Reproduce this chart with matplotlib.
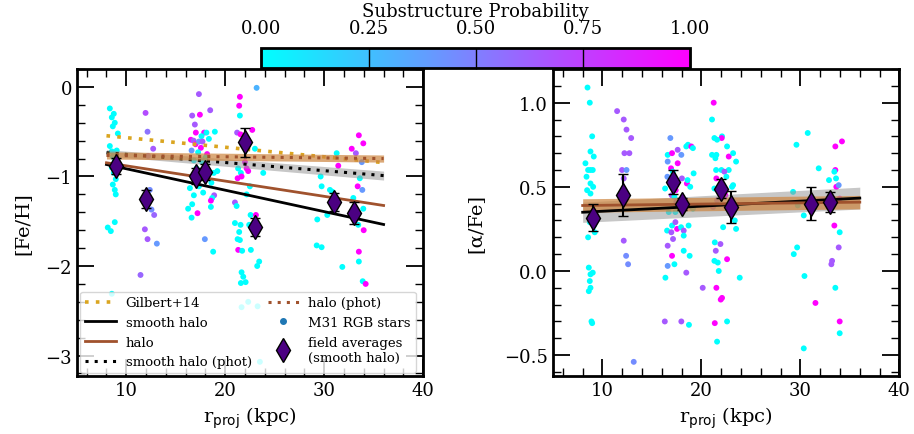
import numpy as np
import matplotlib
matplotlib.use("Agg")
import matplotlib.pyplot as plt
from matplotlib.ticker import MultipleLocator
from matplotlib.lines import Line2D

plt.rcParams['font.family'] = 'DejaVu Serif'
plt.rcParams['mathtext.fontset'] = 'dejavusans'

# stars, left panel: rproj, [Fe/H], substructure probability
feh_r = [8.34, 8.74, 8.54, 8.84, 8.64, 9.15, 8.34, 8.54, 8.84, 9.04, 8.64, 8.84, 8.54, 8.74,
         8.94, 8.64, 8.84, 8.94, 8.84, 8.13, 8.44, 8.54,
         11.95, 12.15, 12.72, 12.2, 12.38, 12.55, 12.82, 11.88, 12.15, 13.09, 11.44,
         17.34, 16.66, 17.44, 18.48, 16.93, 17.03, 17.87, 17.6, 18.1, 18.95, 16.53, 16.8,
         17.0, 17.34, 17.7, 18.35, 16.6, 17.54, 17.26, 18.17, 18.0, 16.83, 17.6, 17.1,
         18.85, 19.2, 18.6, 16.43, 17.34, 16.83, 17.77, 18.88, 18.68, 18.55, 16.66, 18.55,
         16.25, 17.2, 16.6, 17.94, 18.78,
         23.17, 21.48, 21.41, 21.48, 22.73, 21.2, 21.55, 23.0, 23.84, 21.99, 21.3, 22.16,
         22.32, 21.58, 21.25, 21.65, 22.49, 22.16, 20.98, 21.15, 22.56, 23.1, 20.98, 21.55,
         22.42, 21.41, 21.25, 21.48, 21.31, 21.71, 22.59, 23.43, 23.23, 21.65, 21.82, 22.06,
         21.58, 22.32, 21.65, 23.27, 23.5,
         31.26, 32.78, 33.2, 33.5, 33.95, 33.8, 31.42, 29.64, 33.6, 29.74, 30.58, 30.82,
         33.38, 33.85, 32.94, 33.95, 30.31, 29.3, 33.44, 33.99, 33.5, 33.5, 29.24, 29.74,
         31.83, 33.89, 34.19]
feh = [-0.24, -0.30, -0.34, -0.40, -0.44, -0.52, -0.66, -0.72, -0.73, -0.71, -0.78, -0.83,
       -0.90, -0.96, -1.03, -1.09, -1.15, -1.20, -1.51, -1.57, -1.61, -2.31,
       -0.29, -0.50, -0.69, -0.77, -1.15, -1.37, -1.43, -1.59, -1.70, -1.75, -2.10,
       -0.08, -0.32, -0.31, -0.26, -0.42, -0.51, -0.51, -0.55, -0.51, -0.50, -0.59, -0.60,
       -0.64, -0.61, -0.61, -0.58, -0.71, -0.68, -0.73, -0.75, -0.79, -0.82, -0.83, -0.91,
       -0.96, -0.94, -1.07, -1.13, -1.11, -1.21, -1.18, -1.21, -1.24, -1.27, -1.31, -1.34,
       -1.36, -1.41, -1.46, -1.70, -1.84,
       -0.01, -0.11, -0.21, -0.32, -0.48, -0.51, -0.53, -0.69, -0.96, -0.84, -0.91, -0.91,
       -0.94, -0.96, -1.02, -1.00, -1.11, -1.20, -1.29, -1.33, -1.43, -1.43, -1.52, -1.54,
       -1.54, -1.62, -1.70, -1.71, -1.82, -1.83, -1.82, -1.95, -2.00, -2.07, -2.12, -2.18,
       -2.19, -2.40, -2.46, -2.45, -3.07,
       -0.74, -0.69, -0.74, -0.54, -0.63, -0.84, -0.88, -1.00, -1.02, -1.11, -1.15, -1.17,
       -1.11, -1.15, -1.24, -1.36, -1.43, -1.48, -1.54, -1.60, -1.84, -1.95, -1.77, -1.79,
       -2.01, -2.17, -2.20]
feh_p = [0.0] * 22 + \
        [0.7, 0.55, 0.65, 0.65, 0.45, 0.45, 0.6, 0.65, 0.65, 0.4, 0.6] + \
        [0.65, 0.65, 1.0, 0.65, 0.65, 1.0, 1.0, 0.0, 0.0, 0.0, 1.0, 0.65,
         1.0, 0.4, 0.65, 0.0, 0.4, 1.0, 0.0, 1.0, 0.0, 0.0, 0.0, 0.0,
         0.0, 0.0, 0.0, 0.0, 0.0, 0.0, 0.0, 0.65, 0.0, 1.0, 0.0, 0.0,
         0.0, 1.0, 0.0, 0.4, 0.0] + \
        [0.3, 1.0, 1.0, 0.0, 1.0, 0.65, 1.0, 0.0, 0.0, 1.0, 0.0, 1.0,
         1.0, 0.0, 1.0, 1.0, 0.0, 0.0, 0.65, 0.0, 0.0, 1.0, 0.0, 0.0,
         0.0, 0.0, 0.0, 0.0, 1.0, 0.0, 0.0, 0.0, 0.0, 0.0, 0.0, 0.0,
         0.0, 0.0, 0.0, 0.0, 0.0] + \
        [0.0, 1.0, 0.65, 1.0, 1.0, 0.4, 1.0, 0.0, 0.0, 0.0, 0.0, 0.0,
         1.0, 0.4, 0.0, 0.0, 0.0, 0.0, 0.0, 1.0, 1.0, 0.0, 0.0, 0.0,
         0.0, 0.0, 1.0]

# stars, right panel: rproj, [alpha/Fe], substructure probability
afe_r = [8.49, 8.72, 8.96, 8.79, 9.12, 8.28, 8.55, 8.79, 9.02, 8.39, 8.79, 9.06, 8.45, 8.79,
         8.72, 9.12, 9.22, 8.55, 8.62, 8.79, 9.02, 8.72, 8.79, 8.62, 8.89, 8.96,
         11.48, 12.15, 12.43, 12.9, 12.22, 12.72, 11.98, 12.43, 12.15, 12.15, 12.39, 12.59, 13.16,
         16.86, 16.59, 16.59, 17.03, 17.6, 17.97, 18.47, 18.64, 18.98, 19.14, 17.6, 16.93,
         17.1, 16.56, 18.03, 18.53, 18.87, 18.6, 19.21, 16.33, 17.4, 17.0, 17.27, 17.47,
         16.7, 17.37, 17.6, 19.14, 17.03, 17.37, 16.53, 16.96, 17.54, 17.94, 18.21, 18.7,
         18.21, 17.13, 16.59, 18.21, 18.81, 17.03, 17.27, 16.59, 18.47, 16.36, 16.3, 17.97, 18.74,
         21.24, 21.07, 21.31, 22.08, 22.05, 21.58, 22.59, 21.07, 21.51, 22.76, 23.2, 23.5,
         21.41, 21.48, 22.02, 22.76, 22.32, 21.51, 22.52, 23.09, 23.2, 21.31, 22.42, 21.17,
         21.58, 23.37, 22.19, 23.5, 21.92, 21.35, 21.45, 21.31, 21.65, 22.59, 21.75, 23.87,
         20.13, 21.51, 22.08, 21.95, 21.35, 22.59, 21.58,
         30.74, 29.6, 29.26, 29.73, 30.34, 31.85, 32.89, 33.53, 34.2, 33.53, 33.43, 33.6,
         33.63, 33.87, 33.97, 33.43, 33.97, 33.87, 33.2, 33.13, 29.67, 29.33, 30.41, 31.52,
         33.53, 33.97, 33.97, 30.34]
afe = [1.09, 1.00, 0.80, 0.71, 0.68, 0.64, 0.60, 0.60, 0.60, 0.56, 0.52, 0.50, 0.48, 0.46,
       0.29, 0.27, 0.23, 0.20, 0.02, -0.02, -0.01, -0.06, -0.10, -0.12, -0.30, -0.31,
       0.95, 0.90, 0.84, 0.79, 0.70, 0.70, 0.60, 0.60, 0.55, 0.18, 0.09, 0.04, -0.54,
       0.79, 0.69, 0.65, 0.70, 0.72, 0.69, 0.74, 0.75, 0.74, 0.73, 0.64, 0.61,
       0.59, 0.56, 0.55, 0.52, 0.50, 0.54, 0.58, 0.49, 0.48, 0.45, 0.44, 0.41,
       0.35, 0.35, 0.38, 0.37, 0.27, 0.29, 0.24, 0.23, 0.25, 0.26, 0.24, 0.27,
       0.21, 0.19, 0.15, 0.12, 0.09, 0.09, 0.04, 0.03, -0.01, -0.04, -0.30, -0.30, -0.32,
       1.00, 0.90, 0.79, 0.80, 0.79, 0.78, 0.74, 0.69, 0.69, 0.68, 0.70, 0.65,
       0.67, 0.60, 0.60, 0.60, 0.59, 0.55, 0.56, 0.50, 0.51, 0.49, 0.45, 0.38,
       0.42, 0.30, 0.26, 0.25, 0.16, 0.17, 0.12, 0.06, 0.05, 0.07, 0.00, -0.04,
       -0.10, -0.10, -0.16, -0.17, -0.31, -0.30, -0.42,
       0.82, 0.75, 0.47, 0.39, 0.33, 0.61, 0.54, 0.74, 0.77, 0.60, 0.59, 0.55,
       0.50, 0.51, 0.43, 0.27, 0.23, 0.14, 0.06, 0.04, 0.14, 0.10, -0.03, -0.19,
       -0.10, -0.30, -0.37, -0.46]
afe_p = [0.0] * 26 + \
        [0.65, 0.65, 0.65, 0.65, 0.65, 0.65, 0.65, 0.4, 0.65, 0.65, 0.45, 0.45, 0.45] + \
        [0.4, 0.0, 0.4, 1.0, 0.65, 0.4, 0.0, 0.0, 1.0, 0.0, 1.0, 1.0,
         0.0, 0.4, 0.65, 1.0, 0.0, 0.0, 0.0, 0.0, 1.0, 0.65, 0.0, 0.65,
         0.0, 0.0, 0.0, 0.0, 0.0, 0.65, 0.0, 0.65, 1.0, 0.0, 0.65, 0.0,
         0.0, 0.65, 0.65, 0.0, 0.0, 1.0, 0.0, 0.4, 0.65, 0.0, 0.65, 0.65, 0.0] + \
        [1.0, 0.0, 0.0, 0.0, 1.0, 0.0, 0.0, 0.0, 0.0, 1.0, 0.0, 0.0,
         0.0, 0.0, 0.0, 0.0, 0.65, 1.0, 0.0, 0.0, 0.0, 0.0, 1.0, 0.65,
         0.65, 0.0, 0.0, 0.0, 0.65, 0.0, 0.65, 0.0, 0.0, 1.0, 0.0, 0.0,
         0.65, 1.0, 1.0, 1.0, 1.0, 0.0, 0.0] + \
        [0.0, 0.0, 0.0, 0.0, 0.0, 0.0, 0.0, 1.0, 1.0, 1.0, 0.0, 0.0,
         1.0, 0.4, 1.0, 1.0, 0.0, 0.65, 0.65, 0.65, 0.0, 0.0, 0.0, 1.0,
         0.0, 1.0, 0.0, 0.0]

# field averages (smooth halo)
field_r = [9.0, 12.0, 17.0, 18.0, 22.0, 23.0, 31.0, 33.0]
field_feh = [-0.88, -1.25, -0.99, -0.95, -0.62, -1.56, -1.29, -1.41]
field_feh_err = [0.09, 0.10, 0.09, 0.09, 0.16, 0.10, 0.10, 0.12]
field_afe_r = [9.0, 12.05, 17.1, 18.05, 22.0, 23.0, 31.1, 33.0]
field_afe = [0.315, 0.45, 0.53, 0.40, 0.49, 0.38, 0.40, 0.41]
field_afe_err = [0.08, 0.125, 0.07, 0.035, 0.057, 0.094, 0.10, 0.06]

# gradient fits: [value at 8 kpc, value at 36 kpc]
fit_r = [8.0, 36.0]
gilbert14 = [-0.545, -0.845]
feh_smooth = [-0.866, -1.536]
feh_halo = [-0.847, -1.324]
feh_smooth_phot = [-0.735, -0.99]
feh_smooth_phot_err = [0.035, 0.05]
feh_halo_phot = [-0.765, -0.80]
feh_halo_phot_err = [0.04, 0.04]
afe_smooth = [0.349, 0.433]
afe_smooth_err = [0.06, 0.065]
afe_halo = [0.389, 0.409]
afe_halo_err = [0.04, 0.04]

tan = '#cd853f'
brown = 'sienna'
gold = 'goldenrod'
dots = (1, 2)

fig = plt.figure(figsize=(9.14, 4.35), dpi=100)
ax1 = fig.add_axes([0.084, 0.133, 0.379, 0.706])
ax2 = fig.add_axes([0.605, 0.133, 0.379, 0.706])
cax = fig.add_axes([0.286, 0.842, 0.469, 0.046])

cmap = plt.get_cmap('cool')
ax1.scatter(feh_r, feh, c=feh_p, cmap=cmap, vmin=0, vmax=1, s=18, lw=0, zorder=2)
ax2.scatter(afe_r, afe, c=afe_p, cmap=cmap, vmin=0, vmax=1, s=18, lw=0, zorder=2)

# left panel fits
ax1.plot(fit_r, gilbert14, color=gold, ls=(0, dots), lw=2.6, zorder=3)
ax1.plot(fit_r, feh_smooth, color='k', lw=2, zorder=3)
ax1.plot(fit_r, feh_halo, color=brown, lw=2, zorder=3)
lo = np.array(feh_smooth_phot) - feh_smooth_phot_err
hi = np.array(feh_smooth_phot) + feh_smooth_phot_err
ax1.fill_between(fit_r, lo, hi, color='#999999', alpha=0.55, lw=0, zorder=3)
ax1.plot(fit_r, feh_smooth_phot, color='k', ls=(0, dots), lw=2.2, zorder=3)
lo = np.array(feh_halo_phot) - feh_halo_phot_err
hi = np.array(feh_halo_phot) + feh_halo_phot_err
ax1.fill_between(fit_r, lo, hi, color=tan, alpha=0.7, lw=0, zorder=3)
ax1.plot(fit_r, feh_halo_phot, color=brown, ls=(0, dots), lw=2.2, zorder=3)

ax1.errorbar(field_r, field_feh, yerr=field_feh_err, fmt='d', ms=12, mfc='#4b0082', mec='k',
             mew=1, ecolor='k', elinewidth=1.5, capsize=3.5, capthick=1.5, zorder=5)

# right panel fits
lo = np.array(afe_smooth) - afe_smooth_err
hi = np.array(afe_smooth) + afe_smooth_err
ax2.fill_between(fit_r, lo, hi, color='#999999', alpha=0.55, lw=0, zorder=3)
lo = np.array(afe_halo) - afe_halo_err
hi = np.array(afe_halo) + afe_halo_err
ax2.fill_between(fit_r, lo, hi, color=tan, alpha=0.7, lw=0, zorder=3)
ax2.plot(fit_r, afe_smooth, color='k', lw=2, zorder=4)
ax2.plot(fit_r, afe_halo, color=brown, lw=2, zorder=4)
ax2.errorbar(field_afe_r, field_afe, yerr=field_afe_err, fmt='d', ms=12, mfc='#4b0082', mec='k',
             mew=1, ecolor='k', elinewidth=1.5, capsize=3.5, capthick=1.5, zorder=5)

for ax in (ax1, ax2):
    ax.set_xlim(5, 40)
    ax.set_xticks([10, 20, 30, 40])
    ax.xaxis.set_minor_locator(MultipleLocator(2))
    ax.tick_params(which='both', direction='in', top=True, right=True, labelsize=13)
    ax.tick_params(which='major', length=12, width=1.3)
    ax.tick_params(which='minor', length=6, width=1)
    for sp in ax.spines.values():
        sp.set_linewidth(2)
    ax.set_xlabel(r'r$_{\rm proj}$ (kpc)', fontsize=14)

ax1.set_ylim(-3.23, 0.2)
ax1.set_yticks([-3, -2, -1, 0])
ax1.yaxis.set_minor_locator(MultipleLocator(0.2))
ax1.set_ylabel('[Fe/H]', fontsize=14, labelpad=10)

ax2.set_ylim(-0.625, 1.2)
ax2.set_yticks([-0.5, 0.0, 0.5, 1.0])
ax2.yaxis.set_minor_locator(MultipleLocator(0.1))
ax2.set_ylabel('[α/Fe]', fontsize=14, labelpad=14)

handles = [
    Line2D([], [], color=gold, ls=(0, dots), lw=2.6),
    Line2D([], [], color='k', lw=2),
    Line2D([], [], color=brown, lw=2),
    Line2D([], [], color='k', ls=(0, dots), lw=2.2),
    Line2D([], [], color=brown, ls=(0, dots), lw=2.2),
    Line2D([], [], color='C0', marker='o', ls='', ms=4),
]
labels = ['Gilbert+14', 'smooth halo', 'halo', 'smooth halo (phot)', 'halo (phot)', 'M31 RGB stars']
eb = ax1.errorbar([], [], yerr=[], fmt='d', ms=12, mfc='#4b0082', mec='k', ecolor='k',
                  elinewidth=1.5, capsize=3.5, capthick=1.5)
handles.append(eb)
labels.append('field averages\n(smooth halo)')
leg = ax1.legend(handles, labels, loc='lower left', ncol=2, fontsize=9.5, framealpha=0.8,
                 borderaxespad=0.25, handlelength=2.4, labelspacing=0.5, columnspacing=1.2,
                 borderpad=0.35, handletextpad=0.7)
leg.get_frame().set_edgecolor('#cccccc')
leg.set_zorder(6)

sm = matplotlib.cm.ScalarMappable(cmap=cmap, norm=matplotlib.colors.Normalize(0, 1))
cbar = fig.colorbar(sm, cax=cax, orientation='horizontal', ticks=[0, 0.25, 0.5, 0.75, 1.0])
cax.xaxis.set_ticks_position('top')
cax.xaxis.set_label_position('top')
cax.set_xticklabels(['0.00', '0.25', '0.50', '0.75', '1.00'])
cax.tick_params(direction='in', length=15, width=1, labelsize=13, pad=8)
cbar.set_label('Substructure Probability', fontsize=13, labelpad=2)
cbar.outline.set_linewidth(2)

fig.savefig('out.png', dpi=100)
